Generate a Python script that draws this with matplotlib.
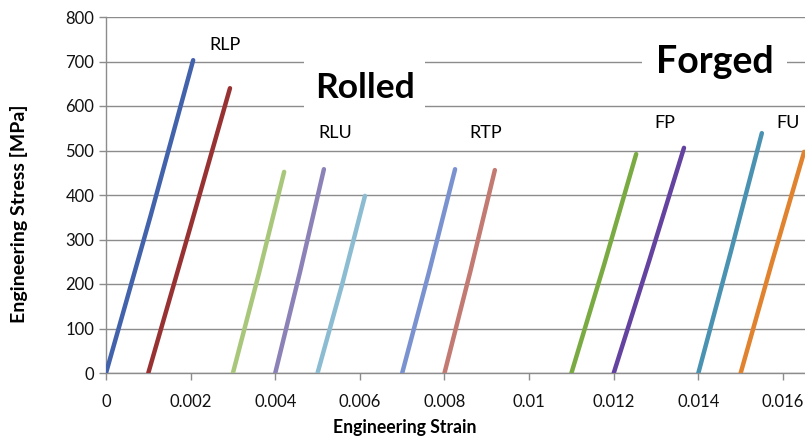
import matplotlib.pyplot as plt
import matplotlib.patches as mpatches
import numpy as np

plt.rcParams['font.family'] = ['Lato', 'DejaVu Sans']

# ----- stress-strain curves (strain, stress in MPa) --------------------------
names = ["RLP-1", "RLP-2", "RLU-1", "RLU-2", "RLU-3", "RTP-1", "RTP-2",
         "FP-1", "FP-2", "FU-1", "FU-2"]
strain = [
    [0.0000, 0.00105, 0.00206],
    [0.0010, 0.00197, 0.00293],
    [0.0030, 0.00362, 0.00421],
    [0.0040, 0.00459, 0.00515],
    [0.0050, 0.00558, 0.00612],
    [0.0070, 0.00764, 0.00825],
    [0.0080, 0.00861, 0.00919],
    [0.0110, 0.01178, 0.01253],
    [0.0120, 0.01284, 0.01366],
    [0.0140, 0.01476, 0.01550],
    [0.0150, 0.01574, 0.01650],
]
stress = [
    [0, 352, 703],
    [0, 320, 640],
    [0, 226, 452],
    [0, 229, 458],
    [0, 199, 398],
    [0, 229, 458],
    [0, 228, 456],
    [0, 246, 492],
    [0, 253, 506],
    [0, 270, 539],
    [0, 249, 497],
]
colors = ["#4262ac", "#983232", "#a9c77a", "#8c82b8", "#8cbcd2", "#7a92d0",
          "#c27a72", "#7aaa42", "#6442a0", "#4a92b2", "#e0822e"]

labels = ["RLP", "RLU", "RTP", "FP", "FU"]
label_pos = [(0.00281, 737), (0.00541, 539), (0.00898, 539), (0.01321, 561), (0.01612, 561)]
xticks = np.arange(0, 0.0161, 0.002)
xticklabels = ["0", "0.002", "0.004", "0.006", "0.008", "0.01", "0.012", "0.014", "0.016"]
# -----------------------------------------------------------------------------

fig = plt.figure(figsize=(8.05, 4.37), dpi=100)
ax = fig.add_axes([106 / 805, 1 - 373 / 437, 1 - 106 / 805, (373 - 17) / 437])

for sx, sy, c in zip(strain, stress, colors):
    ax.plot(sx, sy, color=c, lw=3.2, solid_capstyle='round', zorder=3)

ax.set_xlim(0, 0.01652)
ax.set_ylim(0, 800)
ax.set_yticks(np.arange(0, 801, 100))
ax.set_xticks(xticks)
ax.set_xticklabels(xticklabels)
ax.grid(axis='y', color='#8c8c8c', lw=1.0, zorder=1)
ax.set_axisbelow(True)
for s in ['top', 'right']:
    ax.spines[s].set_visible(False)
for s in ['left', 'bottom']:
    ax.spines[s].set_color('#8c8c8c')
    ax.spines[s].set_linewidth(1.0)
ax.tick_params(colors='#8c8c8c', labelcolor='#111111', labelsize=12, length=5, width=1)
ax.tick_params(axis='x', pad=10)

ax.set_xlabel("Engineering Strain", fontsize=12.7, fontweight='bold')
ax.xaxis.set_label_coords(0.428, -0.13)
ax.set_ylabel("Engineering Stress [MPa]", fontsize=14, fontweight='bold')
ax.yaxis.set_label_coords(-0.111, 0.447)

for t, (px, py) in zip(labels, label_pos):
    ax.text(px, py, t, fontsize=13, ha='center', va='center', zorder=4)

# white panels behind the group titles, cutting the gridlines
ax.add_patch(mpatches.Rectangle((0.00468, 575), 0.00286, 135, fc='white', ec='none', zorder=2))
ax.add_patch(mpatches.Rectangle((0.01267, 650), 0.00342, 110, fc='white', ec='none', zorder=2))
ax.text(0.00613, 618, "Rolled", fontsize=25.5, fontweight='bold', ha='center',
        va='baseline', zorder=4)
ax.text(0.01439, 674, "Forged", fontsize=27, fontweight='bold', ha='center',
        va='baseline', zorder=4)

fig.savefig("out.png", dpi=100)
